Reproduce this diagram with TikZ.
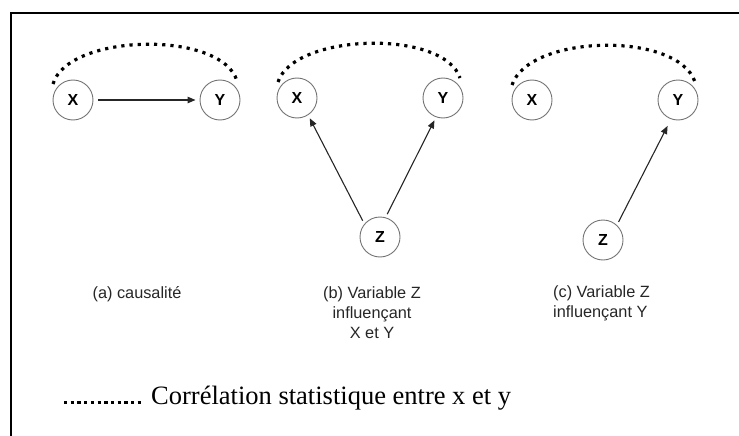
\documentclass[tikz,border=0pt]{standalone}
\usepackage{fontspec}
\setmainfont{Liberation Serif}
\setsansfont{Liberation Sans}
\usetikzlibrary{arrows.meta}
\begin{document}
\begin{tikzpicture}[x=1pt,y=-1pt,
  var/.style={circle,draw=black!55,line width=0.9pt,minimum size=40pt,inner sep=0pt,
    font=\sffamily\bfseries\fontsize{16}{19}\selectfont},
  cause/.style={-{Triangle[length=8pt,width=6.5pt]},line width=1.1pt,draw=black!85,
    shorten >=3.5pt,shorten <=3.5pt},
  corr/.style={line width=3.2pt,dash pattern=on 3.2pt off 5pt},
  legdots/.style={line width=3.3pt,dash pattern=on 3.3pt off 3.4pt},
  lab/.style={font=\sffamily\fontsize{16.3}{20}\selectfont,inner sep=0pt,text=black!85},
  legtext/.style={font=\fontsize{26.5}{30}\selectfont,inner sep=0pt}
]
\useasboundingbox (0,0) rectangle (739,436);
\draw[line width=2.2pt] (11,437) -- (11,13) -- (740,13);

% panel (a)
\node[var] (xa) at (73,100) {X};
\node[var] (ya) at (220,100) {Y};
\draw[cause,shorten <=4.5pt,shorten >=4pt] (xa) -- (ya);
\coordinate (a1) at (53,84);
\coordinate (a2) at (237,81);
\draw[corr] (a1) .. controls (68,33) and (222,30) .. (a2);

% panel (b)
\node[var] (xb) at (297,98) {X};
\node[var] (yb) at (443,98) {Y};
\node[var] (zb) at (380,237) {Z};
\draw[cause] (zb.140) -- (xb.303);
\draw[cause] (zb.74) -- (yb.250);
\coordinate (b1) at (278,82);
\coordinate (b2) at (460,78);
\draw[corr] (b1) .. controls (294,33) and (444,29) .. (b2);

% panel (c)
\node[var] (xc) at (532,100) {X};
\node[var] (yc) at (678,100) {Y};
\node[var] (zc) at (603,240) {Z};
\draw[cause,shorten >=7.5pt] (zc.47) -- (yc.250);
\coordinate (c1) at (512,85);
\coordinate (c2) at (695,82);
\draw[corr] (c1) .. controls (529,34) and (678,31) .. (c2);

% captions
\node[lab,anchor=base] (la) at (137,298) {(a) causalité};
\node[lab,align=center,anchor=north] (lb) at (372,286) {(b) Variable Z\\influençant\\X et Y};
\node[lab,align=left,anchor=north west] (lc) at (553,285) {(c) Variable Z\\influençant Y};

% legend
\coordinate (d1) at (64,402.5);
\coordinate (d2) at (141,402.5);
\draw[legdots] (d1) -- (d2);
\node[legtext,anchor=base west] (lt) at (151,404) {Corrélation statistique entre x et y};
\end{tikzpicture}
\end{document}
